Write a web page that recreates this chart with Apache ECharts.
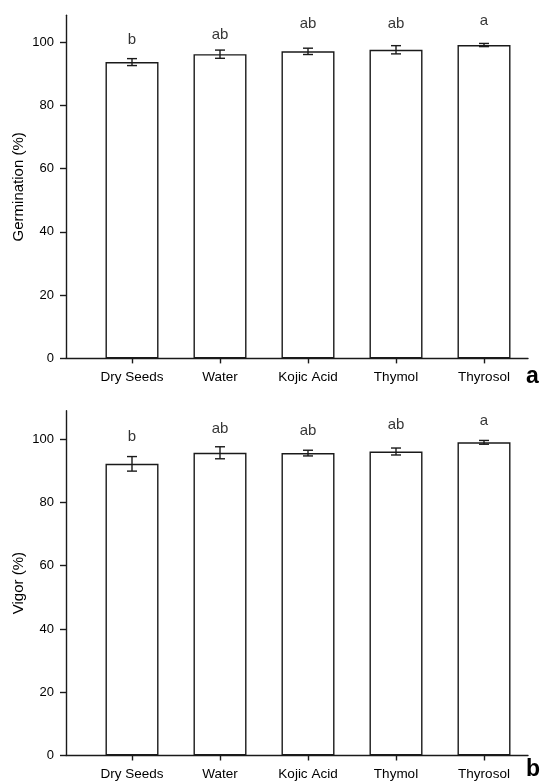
<!DOCTYPE html>
<html>
<head>
<meta charset="utf-8">
<script src="https://cdn.jsdelivr.net/npm/echarts@6/dist/echarts.min.js"></script>
<style>
html,body{margin:0;padding:0;background:#fff;}
#c{width:540px;height:781px;}
</style>
</head>
<body>
<div id="c"></div>
<script>
// ---- data ----
const categories = ['Dry Seeds', 'Water', 'Kojic Acid', 'Thymol', 'Thyrosol'];
const germinationMean = [93.7, 96.2, 97.1, 97.6, 99.1];
const germinationErr  = [1.1, 1.3, 1.0, 1.3, 0.5];
const germinationLetters = ['b', 'ab', 'ab', 'ab', 'a'];
const germinationLetterY = [100.7, 102.3, 105.8, 105.8, 106.7];
const vigorMean = [92.2, 95.7, 95.6, 96.1, 99.0];
const vigorErr  = [2.3, 1.9, 0.9, 1.1, 0.6];
const vigorLetters = ['b', 'ab', 'ab', 'ab', 'a'];
const vigorLetterY = [100.6, 103.2, 102.7, 104.4, 105.8];
const yTicks = [0, 20, 40, 60, 80, 100];

const FONT = 'Liberation Sans, Arial, sans-serif';
const INK = '#1a1a1a';
const TXT = '#000';
const catIdx = categories.map((_, i) => i);

function xAxisFor(gi) {
  return {
    type: 'value', gridIndex: gi, min: -0.75, max: 4.5,
    splitLine: { show: false },
    axisLine: { show: true, onZero: false, lineStyle: { color: INK, width: 1.4 } },
    axisTick: { show: true, customValues: catIdx, length: 5, lineStyle: { color: INK, width: 1.4 } },
    axisLabel: {
      customValues: catIdx, margin: 12,
      formatter: v => categories[Math.round(v)],
      color: TXT, fontSize: 13.5, fontFamily: FONT
    }
  };
}
function yAxisFor(gi, name, max) {
  return {
    type: 'value', gridIndex: gi, min: 0, max: max,
    name: name, nameLocation: 'middle', nameGap: 40, nameRotate: 90,
    nameMoveOverlap: false,
    nameTextStyle: { color: TXT, fontSize: 15, fontFamily: FONT },
    splitLine: { show: false },
    axisLine: { show: true, onZero: false, lineStyle: { color: INK, width: 1.4 } },
    axisTick: { show: true, customValues: yTicks, length: 6, lineStyle: { color: INK, width: 1.4 } },
    axisLabel: { customValues: yTicks, margin: 12, color: TXT, fontSize: 13, fontFamily: FONT }
  };
}
function barSeries(gi, means) {
  return {
    type: 'bar', xAxisIndex: gi, yAxisIndex: gi,
    data: means.map((v, i) => [i, v]),
    barWidth: 53,
    itemStyle: { color: '#fff', borderColor: INK, borderWidth: 1.4 },
    silent: true, z: 2
  };
}
function errSeries(gi, means, errs) {
  return {
    type: 'custom', xAxisIndex: gi, yAxisIndex: gi,
    data: means.map((v, i) => [i, v - errs[i], v + errs[i]]),
    renderItem: (params, api) => {
      const x = api.value(0);
      const lo = api.coord([x, api.value(1)]);
      const hi = api.coord([x, api.value(2)]);
      const hw = 5;
      const st = { stroke: INK, lineWidth: 1.4 };
      return {
        type: 'group',
        children: [
          { type: 'line', shape: { x1: lo[0], y1: lo[1], x2: hi[0], y2: hi[1] }, style: st },
          { type: 'line', shape: { x1: lo[0] - hw, y1: lo[1], x2: lo[0] + hw, y2: lo[1] }, style: st },
          { type: 'line', shape: { x1: hi[0] - hw, y1: hi[1], x2: hi[0] + hw, y2: hi[1] }, style: st }
        ]
      };
    },
    silent: true, z: 5
  };
}
function letterSeries(gi, letters, ys) {
  return {
    type: 'scatter', xAxisIndex: gi, yAxisIndex: gi,
    data: ys.map((y, i) => [i, y]),
    symbolSize: 0,
    label: {
      show: true, position: 'inside',
      formatter: p => letters[p.dataIndex],
      color: TXT, fontSize: 15, fontFamily: FONT
    },
    silent: true, z: 6
  };
}

const chart = echarts.init(document.getElementById('c'), null, { renderer: 'canvas' });
chart.setOption({
  backgroundColor: '#fff',
  animation: false,
  title: [
    { text: 'a', left: 521, top: 360, textStyle: { fontSize: 23, fontWeight: 'bold', color: TXT, fontFamily: FONT } },
    { text: 'b', left: 521, top: 753, textStyle: { fontSize: 23, fontWeight: 'bold', color: TXT, fontFamily: FONT } }
  ],
  grid: [
    { left: 66, right: 12, top: 15.3, height: 343.1, outerBoundsMode: 'none', containLabel: false },
    { left: 66, right: 12, top: 410.7, height: 344.8, outerBoundsMode: 'none', containLabel: false }
  ],
  xAxis: [xAxisFor(0), xAxisFor(1)],
  yAxis: [yAxisFor(0, 'Germination (%)', 108.5), yAxisFor(1, 'Vigor (%)', 109)],
  series: [
    barSeries(0, germinationMean),
    errSeries(0, germinationMean, germinationErr),
    letterSeries(0, germinationLetters, germinationLetterY),
    barSeries(1, vigorMean),
    errSeries(1, vigorMean, vigorErr),
    letterSeries(1, vigorLetters, vigorLetterY)
  ]
});
</script>
</body>
</html>
